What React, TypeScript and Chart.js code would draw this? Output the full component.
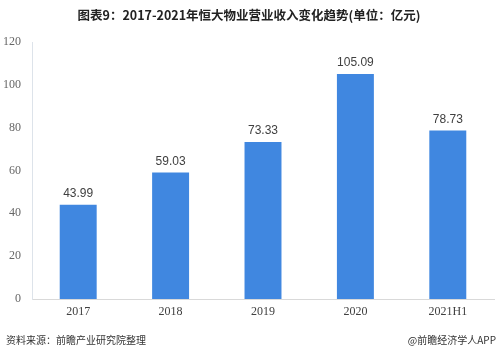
import React, { useEffect, useRef } from "react";
import { Chart, registerables } from "chart.js";

Chart.register(...registerables);

const categories = ["2017", "2018", "2019", "2020", "2021H1"];
const revenue = [43.99, 59.03, 73.33, 105.09, 78.73];
const yTicks = [0, 20, 40, 60, 80, 100, 120];
const titleText = "图表9：2017-2021年恒大物业营业收入变化趋势(单位：亿元)";
const sourceText = "资料来源：前瞻产业研究院整理";
const brandText = "@前瞻经济学人APP";

const CJK = '"Noto Sans CJK SC", "Noto Sans", sans-serif';

const decorPlugin = {
  id: "decor",
  afterDatasetsDraw(chart: any) {
    const { ctx } = chart;
    const meta = chart.getDatasetMeta(0);
    ctx.save();
    ctx.fillStyle = "#404040";
    ctx.font = '12px "Liberation Sans", Arial, sans-serif';
    ctx.textAlign = "center";
    ctx.textBaseline = "bottom";
    meta.data.forEach((bar: any, i: number) => {
      ctx.fillText(revenue[i].toFixed(2), bar.x, bar.y - 5);
    });
    ctx.restore();
  },
  afterDraw(chart: any) {
    const { ctx, width } = chart;
    ctx.save();
    ctx.fillStyle = "#222";
    ctx.font = "bold 12.5px " + CJK;
    ctx.textAlign = "center";
    ctx.textBaseline = "middle";
    ctx.fillText(titleText, 249, 15);
    ctx.fillStyle = "#333";
    ctx.font = "10px " + CJK;
    ctx.textAlign = "left";
    ctx.fillText(sourceText, 6, 340);
    ctx.textAlign = "right";
    ctx.fillText(brandText, width - 3, 340);
    ctx.restore();
  },
};

export default function App() {
  const ref = useRef<HTMLCanvasElement>(null);
  useEffect(() => {
    document.body.style.margin = "0";
    const chart = new Chart(ref.current!, {
      type: "bar",
      data: {
        labels: categories,
        datasets: [
          {
            data: revenue,
            backgroundColor: "#4087e0",
            barPercentage: 0.8,
            categoryPercentage: 0.5,
          },
        ],
      },
      options: {
        animation: false,
        responsive: false,
        layout: { padding: { top: 42, right: 5, bottom: 35, left: 0 } },
        plugins: { legend: { display: false }, title: { display: false }, tooltip: { enabled: false } },
        scales: {
          x: {
            grid: { display: false, drawTicks: false },
            border: { display: true, color: "#d9d9d9" },
            ticks: {
              color: "#404040",
              font: { family: '"Liberation Serif", serif', size: 12 },
              padding: 6,
            },
            afterFit(scale: any) {
              scale.height = 22;
            },
          },
          y: {
            min: 0,
            max: 120,
            afterBuildTicks(scale: any) {
              scale.ticks = yTicks.map((v) => ({ value: v }));
            },
            grid: { display: false, drawTicks: false },
            border: { display: true, color: "#dde3ea" },
            ticks: {
              color: "#666",
              font: { family: '"Liberation Serif", serif', size: 12 },
              padding: 11,
            },
            afterFit(scale: any) {
              scale.width = 32;
            },
          },
        },
      },
      plugins: [decorPlugin],
    });
    return () => chart.destroy();
  }, []);
  return <canvas ref={ref} width={499} height={356} style={{ display: "block" }} />;
}
